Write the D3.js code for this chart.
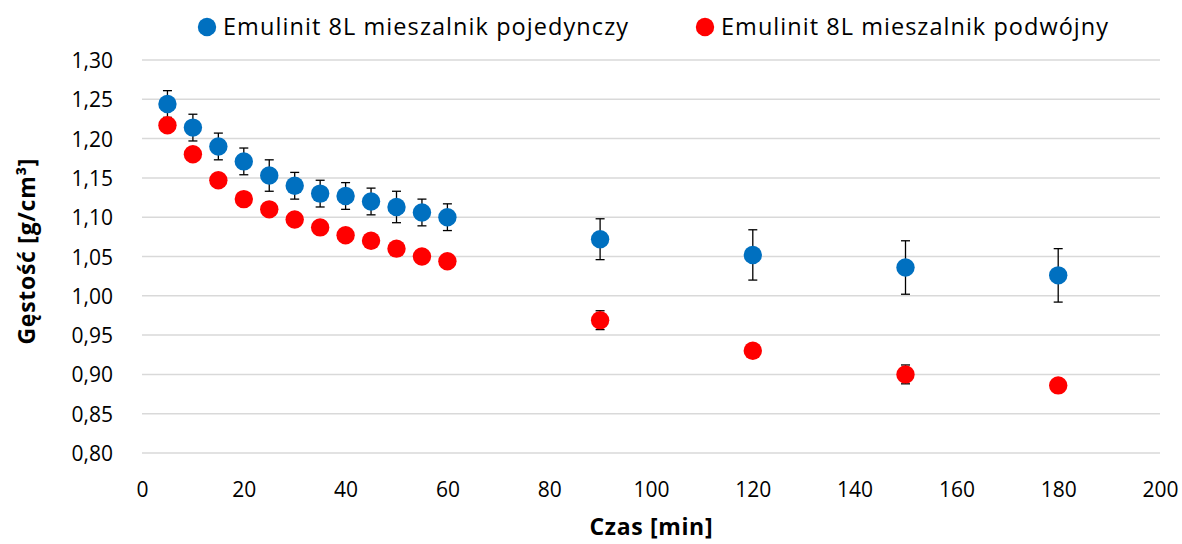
<!DOCTYPE html>
<html>
<head>
<meta charset="utf-8">
<script src="https://cdn.jsdelivr.net/npm/d3@7"></script>
<style>
  html, body { margin: 0; padding: 0; background: #fff; }
  svg { display: block; font-family: "Open Sans", "Noto Sans", sans-serif; }
</style>
</head>
<body>
<svg id="chart" width="1182" height="544"></svg>
<script>
// Time of mixing [min]
const czas = [5, 10, 15, 20, 25, 30, 35, 40, 45, 50, 55, 60, 90, 120, 150, 180];

// Density, single mixer
const pojedynczy = [1.244, 1.214, 1.190, 1.171, 1.153, 1.140, 1.130, 1.127, 1.120, 1.113, 1.106, 1.100, 1.072, 1.052, 1.036, 1.026];
const pojedynczyErr = [0.017, 0.017, 0.017, 0.017, 0.020, 0.017, 0.017, 0.017, 0.017, 0.020, 0.017, 0.017, 0.026, 0.032, 0.034, 0.034];

// Density, double mixer
const podwojny = [1.217, 1.180, 1.147, 1.123, 1.110, 1.097, 1.087, 1.077, 1.070, 1.060, 1.050, 1.044, 0.969, 0.930, 0.900, 0.886];
const podwojnyErr = [0.005, 0.005, 0.005, 0.005, 0.005, 0.005, 0.005, 0.005, 0.005, 0.005, 0.005, 0.005, 0.012, 0.005, 0.012, 0.005];

const seriesNames = ["Emulinit 8L mieszalnik pojedynczy", "Emulinit 8L mieszalnik podwójny"];
const seriesColors = ["#0070c0", "#ff0000"];

const xTicks = [0, 20, 40, 60, 80, 100, 120, 140, 160, 180, 200];
const yTicks = [0.80, 0.85, 0.90, 0.95, 1.00, 1.05, 1.10, 1.15, 1.20, 1.25, 1.30];

const svg = d3.select("#chart");
const margin = { left: 142, right: 22, top: 60, bottom: 91 };
const W = 1182, H = 544;

const x = d3.scaleLinear().domain([0, 200]).range([margin.left, W - margin.right]);
const y = d3.scaleLinear().domain([0.80, 1.30]).range([H - margin.bottom, margin.top]);

const fmt = v => d3.format(".2f")(v).replace(".", ",");

// Horizontal gridlines
svg.append("g")
  .selectAll("line")
  .data(yTicks)
  .join("line")
  .attr("x1", x(0)).attr("x2", x(200))
  .attr("y1", d => y(d)).attr("y2", d => y(d))
  .attr("stroke", "#d9d9d9")
  .attr("stroke-width", 1.5);

// Y axis labels
const yAxis = d3.axisLeft(y).tickValues(yTicks).tickFormat(fmt).tickSize(0).tickPadding(0);
svg.append("g")
  .attr("transform", `translate(${x(0) - 29},0)`)
  .call(yAxis)
  .call(g => g.select(".domain").remove())
  .call(g => g.selectAll("text").attr("font-size", 21).attr("fill", "#000")
    .attr("font-family", "Open Sans").attr("dy", "0.36em"));

// X axis labels
const xAxis = d3.axisBottom(x).tickValues(xTicks).tickFormat(d3.format("d")).tickSize(0).tickPadding(0);
svg.append("g")
  .attr("transform", `translate(0,${y(0.80) + 29})`)
  .call(xAxis)
  .call(g => g.select(".domain").remove())
  .call(g => g.selectAll("text").attr("font-size", 21).attr("fill", "#000").attr("font-family", "Open Sans"));

// Axis titles
svg.append("text")
  .attr("x", (x(0) + x(200)) / 2)
  .attr("y", 535)
  .attr("text-anchor", "middle")
  .attr("font-size", 23)
  .attr("font-weight", "bold")
  .attr("textLength", 123)
  .attr("lengthAdjust", "spacing")
  .text("Czas [min]");

svg.append("text")
  .attr("transform", `translate(35,${(y(0.80) + y(1.30)) / 2 - 5}) rotate(-90)`)
  .attr("text-anchor", "middle")
  .attr("font-size", 23)
  .attr("font-weight", "bold")
  .attr("textLength", 186)
  .attr("lengthAdjust", "spacing")
  .text("Gęstość [g/cm³]");

// Series with error bars
const series = [
  { name: seriesNames[0], color: seriesColors[0], values: pojedynczy, err: pojedynczyErr },
  { name: seriesNames[1], color: seriesColors[1], values: podwojny, err: podwojnyErr }
];

const capHalf = 4.5;
series.forEach(s => {
  const pts = czas.map((t, i) => ({ t, v: s.values[i], e: s.err[i] }));
  const eb = svg.append("g").attr("stroke", "#000").attr("stroke-width", 1.3);
  eb.selectAll("line.v").data(pts).join("line").attr("class", "v")
    .attr("x1", d => x(d.t)).attr("x2", d => x(d.t))
    .attr("y1", d => y(d.v - d.e)).attr("y2", d => y(d.v + d.e));
  eb.selectAll("line.top").data(pts).join("line").attr("class", "top")
    .attr("x1", d => x(d.t) - capHalf).attr("x2", d => x(d.t) + capHalf)
    .attr("y1", d => y(d.v + d.e)).attr("y2", d => y(d.v + d.e));
  eb.selectAll("line.bot").data(pts).join("line").attr("class", "bot")
    .attr("x1", d => x(d.t) - capHalf).attr("x2", d => x(d.t) + capHalf)
    .attr("y1", d => y(d.v - d.e)).attr("y2", d => y(d.v - d.e));
});

series.forEach(s => {
  const pts = czas.map((t, i) => ({ t, v: s.values[i] }));
  svg.append("g").selectAll("circle").data(pts).join("circle")
    .attr("cx", d => x(d.t)).attr("cy", d => y(d.v))
    .attr("r", 9.2)
    .attr("fill", s.color);
});

// Legend
const legendItems = [
  { name: seriesNames[0], color: seriesColors[0], cx: 207, len: 405 },
  { name: seriesNames[1], color: seriesColors[1], cx: 705, len: 387 }
];
const lg = svg.append("g");
legendItems.forEach(item => {
  lg.append("circle").attr("cx", item.cx).attr("cy", 27).attr("r", 9.2).attr("fill", item.color);
  lg.append("text").attr("x", item.cx + 16).attr("y", 35)
    .attr("font-size", 23.5).attr("fill", "#000")
    .attr("textLength", item.len)
    .attr("lengthAdjust", "spacing")
    .text(item.name);
});
</script>
</body>
</html>
